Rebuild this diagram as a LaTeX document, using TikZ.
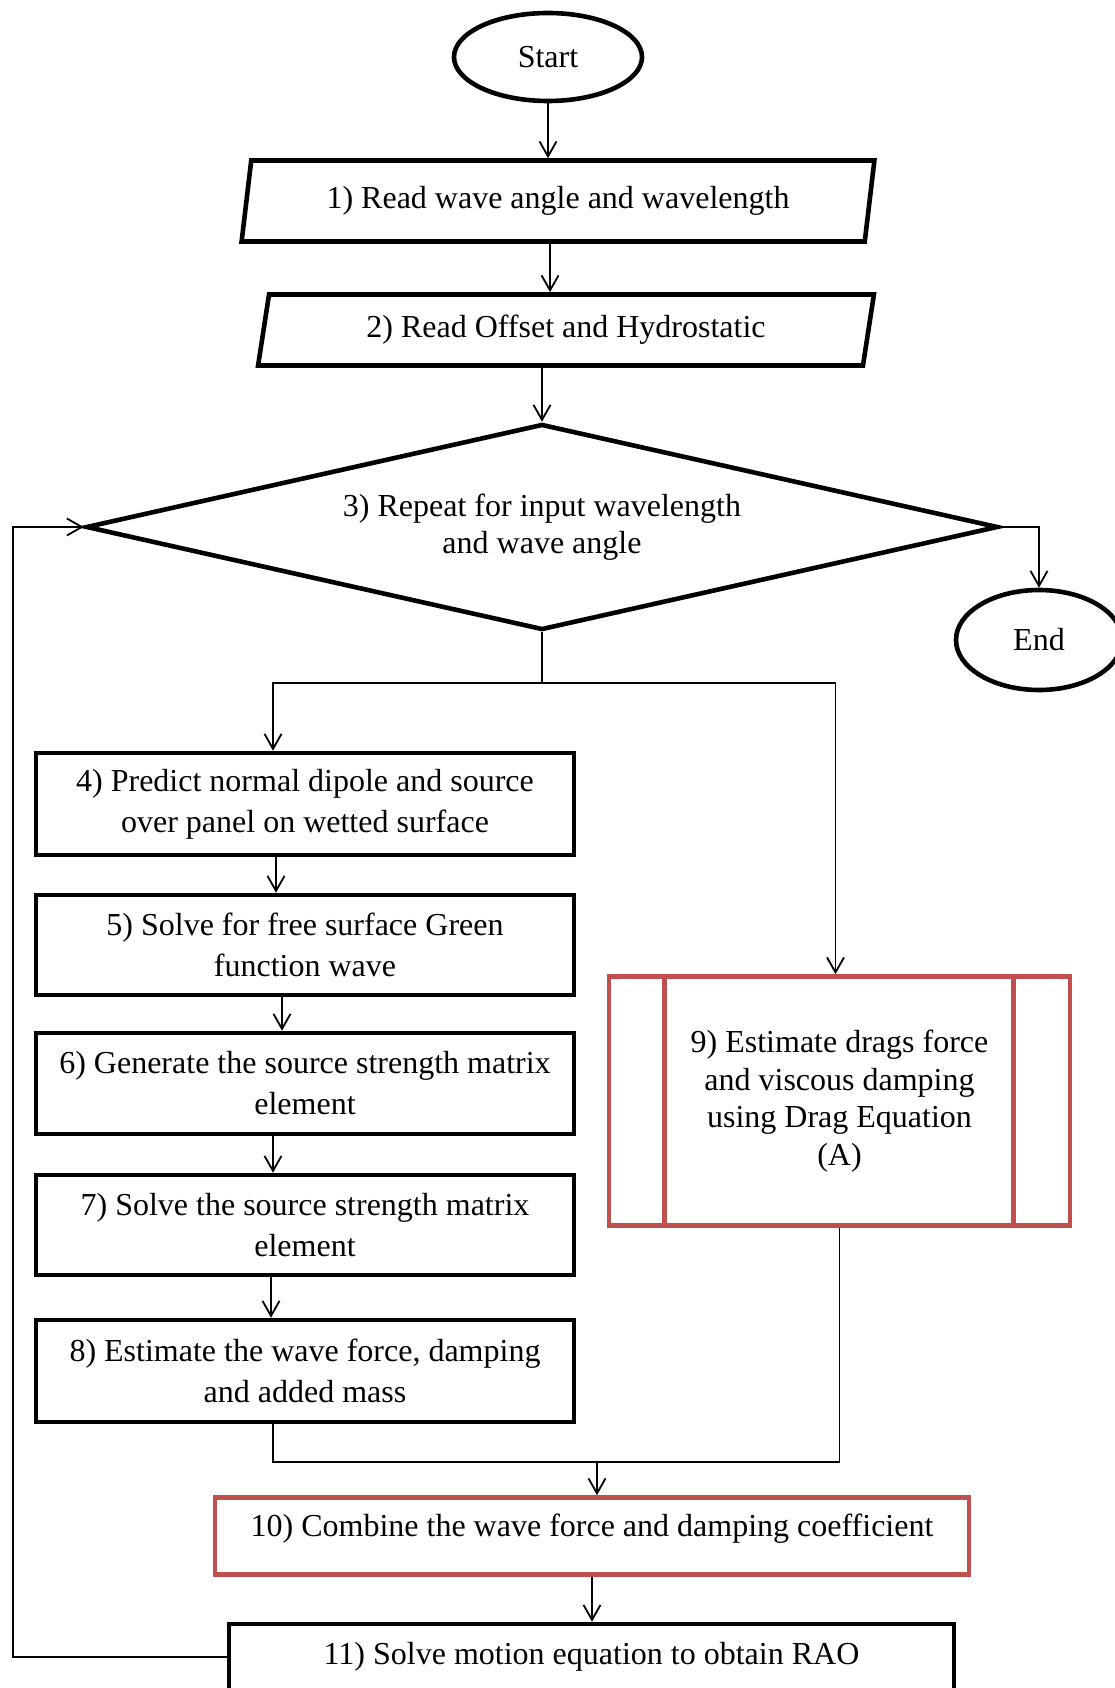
\documentclass[tikz,border=0pt]{standalone}
\usepackage{fontspec}
\setmainfont{Liberation Serif}
\usetikzlibrary{shapes.geometric,arrows.meta}
\definecolor{boxred}{RGB}{192,80,77}
\begin{document}
\begin{tikzpicture}[x=1pt,y=-1pt,
  font=\fontsize{32}{41}\selectfont,
  conn/.style={line width=1.8pt},
  arr/.style={conn,-{Straight Barb[length=15pt,width=17pt,line width=1.8pt]}},
  border/.style={draw,line width=4.6pt,align=center,inner sep=0pt},
  term/.style={border,ellipse},
  io/.style={border,trapezium,trapezium left angle=76,trapezium right angle=104,trapezium stretches=true},
  decision/.style={border,diamond,aspect=4.35,font=\fontsize{32}{37.5}\selectfont},
  proc/.style={border,rectangle},
  redproc/.style={proc,draw=boxred}
]
\useasboundingbox (0,0) rectangle (1114,1688);

% terminals and inputs
\node[term, minimum width=188, minimum height=88] (start) at (548,57) {Start};
\node[io, minimum width=634, minimum height=81] (p1) at (558,201) {1) Read wave angle and wavelength};
\node[io, minimum width=617, minimum height=71] (p2) at (566,330) {2) Read Offset and Hydrostatic};
\node[decision, minimum width=912, minimum height=206] (dia) at (542,527) {3) Repeat for input wavelength\\and wave angle};
\node[term, minimum width=166, minimum height=100] (end) at (1039,640) {End};

% left column of processes
\node[proc, minimum width=538, minimum height=102] (b4) at (305,804) {4) Predict normal dipole and source\\over panel on wetted surface};
\node[proc, minimum width=538, minimum height=100] (b5) at (305,945) {5) Solve for free surface Green\\function wave};
\node[proc, minimum width=538, minimum height=101] (b6) at (305,1083.5) {6) Generate the source strength matrix\\element};
\node[proc, minimum width=538, minimum height=100] (b7) at (305,1225) {7) Solve the source strength matrix\\element};
\node[proc, minimum width=538, minimum height=102] (b8) at (305,1371) {8) Estimate the wave force, damping\\and added mass};

% predefined process on the right
\node[redproc, minimum width=461, minimum height=249, font=\fontsize{32}{37.5}\selectfont] (b9) at (839.5,1101) {9) Estimate drags force\\and viscous damping\\using Drag Equation\\(A)};
\draw[boxred,line width=4.6pt] ([xshift=58]b9.north west) -- ([xshift=58]b9.south west);
\draw[boxred,line width=4.6pt] ([xshift=-59]b9.north east) -- ([xshift=-59]b9.south east);

% combining and solving
\node[redproc, minimum width=754, minimum height=77, text depth=21pt, text height=21pt] (b10) at (592,1536) {10) Combine the wave force and damping coefficient};
\node[proc, minimum width=725, minimum height=66] (b11) at (591.5,1657) {11) Solve motion equation to obtain RAO};

% connectors
\coordinate (split) at (542,683);
\coordinate (merge) at (597,1462);
\coordinate (loop) at (13,527);

\draw[arr] (start.south) -- (start.south |- p1.north);
\draw[arr] ([xshift=-8]p1.south) -- ([xshift=-8]p1.south |- p2.north);
\draw[arr] (p2.south -| dia.north) -- (dia.north);
\draw[arr] (dia.east) -| (end.north);
\draw[conn] (dia.south) -- (split);
\draw[arr] (split) -| ([xshift=-32]b4.north);
\draw[arr] (split) -| ([xshift=-4]b9.north);
\draw[arr] ([xshift=-29]b4.south) -- ([xshift=-29]b5.north);
\draw[arr] ([xshift=-23]b5.south) -- ([xshift=-23]b6.north);
\draw[arr] ([xshift=-32]b6.south) -- ([xshift=-32]b7.north);
\draw[arr] ([xshift=-34]b7.south) -- ([xshift=-34]b8.north);
\draw[conn] ([xshift=-32]b8.south) |- (merge) -| (b9.south);
\draw[arr] (merge) -- (merge |- b10.north);
\draw[arr] (b10.south) -- (b10.south |- b11.north);
\draw[arr] (b11.west) -| (loop) -- (dia.west);
\end{tikzpicture}
\end{document}
